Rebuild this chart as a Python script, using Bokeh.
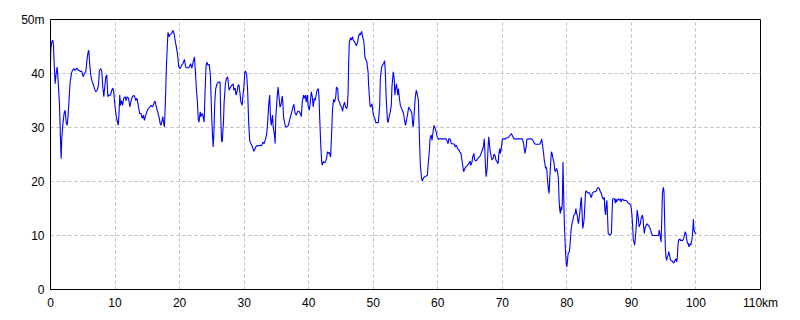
from bokeh.plotting import figure
from bokeh.models import FixedTicker, Range1d
from bokeh.embed import file_html
from bokeh.resources import INLINE

distance_km = [
    0.0, 0.05, 0.2, 0.36, 0.46, 0.57, 0.72, 0.88, 1.03, 1.13, 1.39, 1.55, 1.65, 1.75, 1.9, 2.1, 2.27, 2.42, 2.58, 2.73,
    2.89, 3.04, 3.3, 3.56, 3.82, 4.08, 4.33, 4.6, 4.85, 5.06, 5.26, 5.47, 5.68, 5.83, 5.93, 6.09, 6.24, 6.45, 6.6, 6.81,
    7.02, 7.22, 7.43, 7.58, 7.79, 7.95, 8.1, 8.26, 8.4, 8.57, 8.72, 8.88, 9.03, 9.29, 9.5, 9.65, 9.8, 9.9, 10.06, 10.2,
    10.37, 10.5, 10.63, 10.73, 10.84, 11.0, 11.15, 11.35, 11.56, 11.7, 11.9, 12.1, 12.3, 12.5, 12.7, 13.0, 13.2, 13.4, 13.6, 13.8,
    14.0, 14.2, 14.4, 14.55, 14.75, 14.96, 15.17, 15.4, 15.6, 15.8, 16.0, 16.2, 16.4, 16.6, 16.8, 17.0, 17.1, 17.3, 17.4, 17.5,
    17.65, 17.8, 17.96, 18.1, 18.2, 18.4, 18.5, 18.8, 18.94, 19.15, 19.3, 19.5, 19.7, 19.87, 20.1, 20.3, 20.5, 20.75, 20.95, 21.2,
    21.5, 21.7, 21.9, 22.1, 22.3, 22.45, 22.6, 22.76, 22.9, 23.0, 23.2, 23.3, 23.5, 23.6, 23.8, 23.95, 24.1, 24.25, 24.4, 24.6,
    24.77, 24.87, 24.98, 25.1, 25.2, 25.3, 25.45, 25.6, 25.8, 26.0, 26.27, 26.37, 26.5, 26.6, 26.8, 26.9, 27.1, 27.25, 27.45, 27.66,
    27.9, 28.07, 28.3, 28.4, 28.6, 28.75, 28.9, 29.05, 29.2, 29.36, 29.5, 29.7, 29.8, 30.0, 30.1, 30.24, 30.4, 30.55, 30.7, 30.86,
    31.07, 31.3, 31.5, 31.7, 31.9, 32.2, 32.5, 32.7, 32.9, 33.1, 33.3, 33.5, 33.65, 33.8, 33.96, 34.06, 34.2, 34.4, 34.5, 34.7,
    34.8, 34.9, 35.1, 35.25, 35.4, 35.55, 35.7, 35.9, 36.0, 36.1, 36.3, 36.4, 36.6, 36.85, 37.05, 37.25, 37.5, 37.7, 37.9, 38.1,
    38.3, 38.5, 38.7, 38.85, 39.0, 39.2, 39.3, 39.5, 39.6, 39.8, 39.9, 40.1, 40.25, 40.4, 40.56, 40.7, 40.87, 41.0, 41.2, 41.3,
    41.5, 41.6, 41.7, 41.85, 42.0, 42.1, 42.3, 42.46, 42.6, 42.8, 42.9, 43.1, 43.2, 43.4, 43.55, 43.7, 43.86, 44.0, 44.2, 44.3,
    44.5, 44.6, 44.8, 44.9, 45.1, 45.25, 45.4, 45.56, 45.7, 45.9, 46.0, 46.1, 46.2, 46.3, 46.5, 46.6, 46.8, 46.9, 47.1, 47.3,
    47.4, 47.6, 47.7, 47.9, 48.0, 48.2, 48.35, 48.5, 48.6, 48.7, 48.9, 49.0, 49.2, 49.3, 49.5, 49.6, 49.8, 49.95, 50.1, 50.3,
    50.4, 50.7, 50.8, 51.0, 51.1, 51.3, 51.4, 51.6, 51.75, 51.85, 52.0, 52.2, 52.3, 52.5, 52.6, 52.8, 52.9, 53.1, 53.25, 53.35,
    53.46, 53.6, 53.8, 53.9, 54.1, 54.2, 54.4, 54.5, 54.7, 54.85, 55.0, 55.2, 55.3, 55.5, 55.6, 55.8, 56.0, 56.1, 56.2, 56.35,
    56.5, 56.66, 56.8, 57.0, 57.1, 57.2, 57.3, 57.5, 57.6, 57.8, 58.0, 58.2, 58.4, 58.5, 58.7, 58.8, 59.0, 59.1, 59.3, 59.4,
    59.6, 59.75, 59.9, 60.1, 60.3, 60.6, 60.8, 61.1, 61.3, 61.5, 61.6, 61.7, 61.9, 62.1, 62.3, 62.6, 62.7, 62.9, 63.05, 63.3,
    63.4, 63.6, 63.7, 63.9, 64.0, 64.2, 64.4, 64.6, 64.8, 65.0, 65.1, 65.3, 65.4, 65.6, 65.7, 65.95, 66.1, 66.4, 66.6, 66.8,
    67.0, 67.1, 67.2, 67.3, 67.4, 67.5, 67.65, 67.8, 67.9, 68.0, 68.1, 68.3, 68.4, 68.6, 68.7, 68.9, 69.0, 69.2, 69.35, 69.45,
    69.6, 69.7, 69.8, 69.9, 70.0, 70.2, 70.5, 70.7, 70.9, 71.1, 71.3, 71.4, 71.6, 71.8, 72.2, 72.7, 73.1, 73.3, 73.4, 73.5,
    73.7, 73.8, 74.1, 74.4, 74.6, 74.8, 75.0, 75.2, 75.5, 75.8, 75.96, 76.1, 76.2, 76.3, 76.4, 76.5, 76.6, 76.7, 76.8, 76.9,
    77.0, 77.15, 77.25, 77.35, 77.5, 77.6, 77.7, 77.8, 77.9, 78.0, 78.1, 78.2, 78.3, 78.4, 78.5, 78.6, 78.7, 78.8, 78.9, 79.0,
    79.1, 79.2, 79.3, 79.4, 79.5, 79.6, 79.7, 79.8, 79.9, 80.0, 80.1, 80.2, 80.4, 80.5, 80.65, 80.8, 80.97, 81.1, 81.3, 81.4,
    81.5, 81.6, 81.7, 81.8, 81.95, 82.05, 82.15, 82.25, 82.36, 82.46, 82.6, 82.7, 82.8, 82.9, 83.0, 83.2, 83.3, 83.5, 83.6, 83.8,
    83.96, 84.2, 84.4, 84.6, 84.7, 84.9, 85.0, 85.2, 85.35, 85.5, 85.7, 85.8, 85.9, 86.0, 86.1, 86.2, 86.3, 86.4, 86.6, 86.7,
    86.9, 87.0, 87.1, 87.3, 87.4, 87.5, 87.6, 87.7, 87.8, 88.0, 88.1, 88.3, 88.4, 88.6, 88.8, 89.1, 89.3, 89.5, 89.7, 89.9,
    90.0, 90.1, 90.2, 90.3, 90.4, 90.5, 90.6, 90.7, 90.8, 90.9, 91.0, 91.1, 91.2, 91.4, 91.5, 91.7, 91.8, 91.9, 92.0, 92.1,
    92.3, 92.4, 92.6, 92.8, 93.0, 93.1, 93.3, 93.6, 93.9, 94.2, 94.3, 94.4, 94.5, 94.6, 94.7, 94.8, 94.95, 95.05, 95.15, 95.25,
    95.35, 95.46, 95.56, 95.7, 95.77, 95.9, 96.0, 96.1, 96.3, 96.4, 96.6, 96.7, 96.9, 97.0, 97.1, 97.2, 97.3, 97.5, 97.6, 97.8,
    97.9, 98.1, 98.2, 98.35, 98.45, 98.55, 98.7, 98.8, 98.9, 99.0, 99.1, 99.2, 99.3, 99.4, 99.5, 99.6, 99.7, 99.8, 99.9, 100.05,
]

elevation_m = [
    41.9, 44.5, 45.9, 46.2, 45.2, 41.8, 38.1, 40.0, 41.2, 39.7, 34.4, 27.6, 24.2, 28.0, 30.4, 32.6, 33.2, 31.0, 30.4, 32.3,
    35.4, 38.4, 40.3, 40.9, 40.6, 41.0, 40.6, 40.4, 40.4, 39.4, 40.0, 40.3, 42.8, 44.0, 44.3, 41.5, 39.7, 38.5, 38.1, 37.2,
    36.6, 36.9, 37.8, 40.6, 40.9, 40.3, 37.5, 35.7, 37.5, 39.4, 39.7, 35.7, 36.0, 36.0, 36.9, 37.3, 36.6, 35.0, 33.2, 32.0,
    31.0, 30.4, 32.9, 36.0, 34.1, 35.0, 34.1, 35.4, 35.7, 35.0, 35.7, 35.4, 33.8, 35.0, 35.8, 35.9, 35.0, 35.4, 34.1, 32.6,
    32.6, 31.7, 32.3, 31.3, 32.3, 33.0, 33.5, 33.8, 34.1, 33.8, 34.4, 34.9, 33.8, 32.9, 32.0, 30.7, 30.4, 31.3, 32.0, 31.0,
    30.1, 34.7, 41.5, 45.2, 47.6, 46.8, 47.2, 47.4, 48.0, 47.4, 46.2, 44.9, 43.4, 41.2, 40.9, 41.5, 41.8, 42.6, 41.2, 41.0,
    41.2, 41.8, 41.0, 42.1, 43.1, 40.3, 37.2, 34.7, 31.4, 31.0, 32.9, 32.0, 32.6, 32.3, 31.0, 36.6, 41.5, 42.1, 41.5, 41.7,
    39.7, 36.0, 31.7, 28.6, 26.4, 28.6, 34.7, 37.2, 38.1, 38.4, 38.4, 32.3, 27.6, 27.3, 31.0, 34.7, 38.1, 39.0, 39.4, 36.9,
    37.5, 37.8, 38.1, 36.9, 37.3, 36.0, 36.6, 37.8, 37.9, 36.3, 34.7, 34.1, 35.7, 38.1, 40.3, 40.4, 39.7, 36.6, 31.0, 27.6,
    27.0, 26.4, 25.6, 26.1, 26.6, 26.6, 26.7, 26.6, 27.3, 27.0, 27.8, 28.9, 31.0, 34.1, 36.0, 32.3, 30.4, 32.3, 30.1, 28.6,
    27.0, 31.7, 35.4, 37.5, 35.7, 33.8, 34.1, 35.8, 34.7, 32.0, 30.7, 30.1, 30.1, 30.4, 31.4, 32.3, 33.5, 34.3, 32.6, 32.3,
    33.0, 33.0, 32.6, 32.0, 34.7, 36.0, 35.4, 36.0, 34.7, 36.0, 34.1, 33.2, 34.7, 36.6, 35.7, 33.8, 35.4, 35.0, 36.3, 36.9,
    37.2, 35.7, 32.0, 27.3, 23.9, 23.0, 23.7, 23.5, 23.6, 24.5, 25.5, 25.2, 25.4, 24.5, 28.9, 33.5, 35.2, 34.7, 35.7, 37.5,
    37.2, 35.0, 34.7, 34.1, 33.8, 33.0, 34.1, 34.7, 33.8, 33.5, 34.1, 36.3, 42.2, 45.9, 46.6, 46.2, 46.8, 46.2, 45.9, 45.4,
    45.1, 45.9, 46.8, 47.4, 47.1, 47.8, 46.8, 46.2, 45.2, 43.1, 42.4, 42.2, 40.3, 37.5, 34.1, 33.8, 34.4, 32.9, 32.0, 31.5,
    30.9, 30.9, 30.9, 34.1, 39.0, 41.2, 41.5, 41.8, 42.4, 40.9, 35.7, 31.3, 30.9, 32.3, 32.6, 34.1, 37.5, 40.3, 39.0, 36.0,
    37.2, 38.1, 36.0, 37.2, 35.0, 34.1, 33.5, 33.2, 32.6, 31.3, 30.4, 31.7, 32.3, 33.8, 33.5, 33.2, 32.6, 30.7, 30.1, 32.6,
    35.4, 36.9, 36.3, 35.0, 30.7, 26.4, 23.0, 20.5, 20.1, 20.7, 20.9, 21.0, 21.2, 23.0, 25.8, 28.0, 28.6, 27.6, 29.5, 30.4,
    29.8, 29.2, 28.3, 27.8, 27.9, 27.9, 27.9, 27.9, 27.9, 27.3, 27.0, 27.9, 27.9, 27.0, 27.0, 26.9, 26.4, 26.7, 26.1, 25.8,
    25.5, 25.2, 24.3, 22.7, 21.8, 22.4, 22.8, 23.0, 23.3, 23.8, 23.0, 23.6, 24.5, 25.2, 24.0, 23.8, 24.1, 24.5, 24.8, 25.5,
    26.1, 26.7, 27.9, 25.5, 22.7, 20.9, 22.4, 26.4, 28.3, 27.0, 25.8, 24.5, 24.0, 24.3, 25.1, 24.7, 24.0, 23.6, 23.3, 24.9,
    26.1, 25.2, 25.8, 26.7, 27.8, 27.9, 27.9, 28.1, 28.1, 28.4, 28.7, 28.9, 28.4, 27.9, 27.9, 27.9, 27.9, 27.0, 26.1, 25.2,
    26.4, 27.8, 27.9, 27.9, 27.8, 27.5, 27.0, 26.9, 26.9, 26.9, 27.3, 27.9, 27.0, 26.1, 25.2, 23.9, 23.3, 22.4, 22.7, 22.1,
    20.2, 18.4, 17.8, 20.6, 23.6, 25.5, 25.2, 24.6, 23.9, 23.6, 22.4, 21.8, 22.1, 22.4, 22.1, 21.5, 20.2, 16.5, 14.7, 14.1,
    15.3, 14.7, 16.2, 23.6, 17.8, 12.8, 9.4, 6.7, 4.8, 4.2, 5.4, 6.7, 7.0, 8.5, 11.0, 12.2, 13.1, 13.8, 14.1, 15.0,
    14.1, 13.8, 12.8, 12.2, 13.8, 14.7, 16.2, 17.1, 14.1, 11.3, 12.2, 13.5, 15.9, 18.1, 18.3, 17.9, 17.9, 17.9, 17.6, 17.0,
    17.9, 18.1, 18.1, 18.3, 18.7, 18.9, 18.7, 18.1, 17.8, 17.0, 16.7, 17.1, 14.7, 13.8, 15.6, 16.5, 13.8, 10.4, 10.1, 10.1,
    10.4, 14.1, 16.8, 16.8, 16.8, 16.0, 16.8, 16.2, 16.5, 16.8, 16.5, 16.8, 16.2, 16.8, 16.5, 16.5, 16.4, 16.0, 15.9, 15.6,
    14.8, 13.5, 11.6, 9.1, 8.8, 8.2, 9.4, 10.9, 12.8, 14.7, 13.8, 12.8, 11.6, 12.2, 13.1, 13.8, 13.1, 11.6, 10.4, 11.3,
    11.9, 12.2, 11.9, 11.6, 11.0, 10.4, 10.0, 10.0, 10.0, 10.0, 11.0, 10.4, 9.4, 8.8, 12.8, 17.8, 18.9, 18.1, 12.8, 7.9,
    6.0, 5.4, 6.0, 6.4, 7.0, 6.5, 5.7, 5.4, 5.3, 5.1, 4.9, 5.3, 5.7, 5.1, 5.7, 7.9, 9.1, 9.4, 9.1, 9.1,
    9.0, 9.4, 10.0, 10.7, 10.4, 9.4, 8.5, 8.6, 7.9, 8.2, 8.5, 8.2, 8.8, 9.4, 10.7, 13.0, 11.0, 10.7, 10.4, 10.4,
]

x_ticks = [0, 10, 20, 30, 40, 50, 60, 70, 80, 90, 100, 110]
y_ticks = [0, 10, 20, 30, 40, 50]
x_label_overrides = {110: "110km"}
y_label_overrides = {50: "50m"}

p = figure(width=800, height=320, output_backend="svg", toolbar_location=None,
           x_range=Range1d(0, 110), y_range=Range1d(0, 50),
           min_border_left=50, min_border_right=40, min_border_top=19, min_border_bottom=31)
p.background_fill_color = "white"
p.border_fill_color = "white"
p.outline_line_color = "black"
p.outline_line_width = 1

p.line(distance_km, elevation_m, line_color="#0000ff", line_width=1.1)

for ax, ticks, ov in ((p.xaxis[0], x_ticks, x_label_overrides), (p.yaxis[0], y_ticks, y_label_overrides)):
    ax.ticker = FixedTicker(ticks=ticks)
    ax.major_label_overrides = ov
    ax.major_tick_in = 0
    ax.major_tick_out = 0
    ax.minor_tick_in = 0
    ax.minor_tick_out = 0
    ax.axis_line_color = "black"
    ax.major_label_text_font = "Liberation Sans"
    ax.major_label_text_font_size = "12px"
    ax.major_label_text_color = "black"
p.xaxis.major_label_standoff = 6
p.yaxis.major_label_standoff = 6

p.xgrid.ticker = FixedTicker(ticks=x_ticks)
p.ygrid.ticker = FixedTicker(ticks=y_ticks)
for g in (p.xgrid[0], p.ygrid[0]):
    g.grid_line_color = "#bdbdbd"
    g.grid_line_dash = "3 3"
    g.grid_line_width = 1

open("out.html", "w").write(file_html(p, INLINE))
